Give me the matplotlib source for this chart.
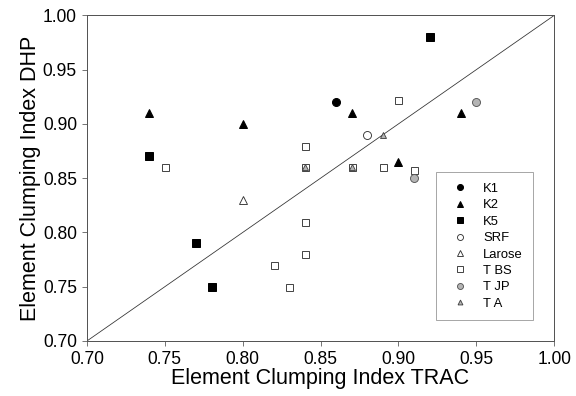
import numpy as np
import matplotlib
matplotlib.use("Agg")
import matplotlib.pyplot as plt

plt.rcParams['font.family'] = ['Liberation Sans', 'DejaVu Sans']

# Element clumping index, TRAC (x) vs DHP (y)
k1_x = [0.86]
k1_y = [0.92]
k2_x = [0.74, 0.80, 0.87, 0.90, 0.94]
k2_y = [0.91, 0.90, 0.91, 0.865, 0.91]
k5_x = [0.74, 0.77, 0.78, 0.92]
k5_y = [0.87, 0.79, 0.75, 0.98]
srf_x = [0.88]
srf_y = [0.89]
larose_x = [0.80]
larose_y = [0.83]
tbs_x = [0.75, 0.84, 0.84, 0.84, 0.84, 0.82, 0.83, 0.87, 0.89, 0.90, 0.91]
tbs_y = [0.86, 0.88, 0.86, 0.81, 0.78, 0.77, 0.75, 0.86, 0.86, 0.922, 0.858]
tjp_x = [0.95, 0.91]
tjp_y = [0.92, 0.85]
ta_x = [0.89, 0.84, 0.87]
ta_y = [0.89, 0.86, 0.86]

ticks = [0.70, 0.75, 0.80, 0.85, 0.90, 0.95, 1.00]

fig = plt.figure(figsize=(8, 5.5), dpi=72)
ax = fig.add_axes([0.151, 0.139, 0.811, 0.822])

ax.plot([0.70, 1.00], [0.70, 1.00], color='#333333', linewidth=0.8, zorder=1)

ms = 8
ax.plot(k1_x, k1_y, 'o', color='black', markersize=ms, label='K1', zorder=3)
ax.plot(k2_x, k2_y, '^', color='black', markersize=ms, label='K2', zorder=3)
ax.plot(k5_x, k5_y, 's', color='black', markersize=ms - 0.5, label='K5', zorder=3)
ax.plot(srf_x, srf_y, 'o', mfc='white', mec='#333333', mew=0.9, markersize=ms, label='SRF', zorder=3)
ax.plot(larose_x, larose_y, '^', mfc='white', mec='#333333', mew=0.9, markersize=ms, label='Larose', zorder=3)
ax.plot(tbs_x, tbs_y, 's', mfc='white', mec='#333333', mew=0.9, markersize=ms - 1, label='T BS', zorder=2)
ax.plot(tjp_x, tjp_y, 'o', mfc='#b4b4b4', mec='#555555', mew=0.9, markersize=ms, label='T JP', zorder=3)
ax.plot(ta_x, ta_y, '^', mfc='#b4b4b4', mec='#444444', mew=0.9, markersize=ms - 1.5, label='T A', zorder=3)

ax.set_xlim(0.70, 1.00)
ax.set_ylim(0.70, 1.00)
ax.set_xticks(ticks)
ax.set_yticks(ticks)
ax.set_xticklabels([f'{t:.2f}' for t in ticks])
ax.set_yticklabels([f'{t:.2f}' for t in ticks])
ax.tick_params(direction='out', length=5, width=0.8, color='#555555', labelsize=17.5, pad=5)
for s in ax.spines.values():
    s.set_color('#555555')
    s.set_linewidth(1.0)

ax.set_xlabel('Element Clumping Index TRAC', fontsize=21.5, labelpad=0)
ax.set_ylabel('Element Clumping Index DHP', fontsize=21.5, labelpad=2)

leg = ax.legend(loc='lower right', bbox_to_anchor=(0.955, 0.064), fontsize=13,
                frameon=True, fancybox=False, edgecolor='#777777',
                labelspacing=0.33, handlelength=2.0, handletextpad=0.8,
                borderpad=0.8, borderaxespad=0, markerscale=0.75)
leg.get_frame().set_linewidth(0.8)

fig.savefig('out.png', dpi=72)
